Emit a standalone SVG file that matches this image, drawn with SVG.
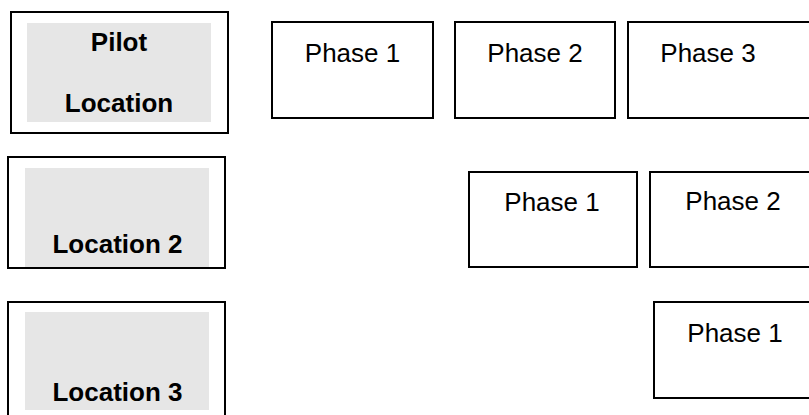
<svg xmlns="http://www.w3.org/2000/svg" width="809" height="415" viewBox="0 0 809 415">
  <style>
    .outer { fill: #ffffff; stroke: #000000; stroke-width: 2; }
    .inner { fill: #e6e6e6; stroke: none; }
    .phase { fill: #ffffff; stroke: #000000; stroke-width: 2; }
    .loc { font-family: "Liberation Sans", Arial, sans-serif; font-weight: bold; font-size: 26px; fill: #000000; text-anchor: middle; }
    .ph { font-family: "Liberation Sans", Arial, sans-serif; font-size: 26px; fill: #000000; text-anchor: middle; }
  </style>
  <rect width="809" height="415" fill="#ffffff"/>
  <g id="location-pilot">
    <rect class="outer" x="11" y="12" width="217" height="121"/>
    <rect class="inner" x="27" y="23" width="184" height="99"/>
    <text class="loc" x="119" y="51">Pilot</text>
    <text class="loc" x="119" y="112">Location</text>
  </g>
  <g id="location-2">
    <rect class="outer" x="8" y="157" width="217" height="111"/>
    <rect class="inner" x="25" y="168" width="184" height="99"/>
    <text class="loc" x="117.5" y="253">Location 2</text>
  </g>
  <g id="location-3">
    <rect class="outer" x="8" y="302" width="217" height="130"/>
    <rect class="inner" x="25" y="312" width="184" height="98"/>
    <text class="loc" x="117.5" y="401">Location 3</text>
  </g>
  <g id="pilot-phase-1">
    <rect class="phase" x="272" y="22" width="161" height="96"/>
    <text class="ph" x="352.5" y="62">Phase 1</text>
  </g>
  <g id="pilot-phase-2">
    <rect class="phase" x="455" y="22" width="160" height="96"/>
    <text class="ph" x="535" y="62">Phase 2</text>
  </g>
  <g id="pilot-phase-3">
    <rect class="phase" x="628" y="22" width="200" height="96"/>
    <text class="ph" x="708" y="62">Phase 3</text>
  </g>
  <g id="loc2-phase-1">
    <rect class="phase" x="469" y="172" width="168" height="95"/>
    <text class="ph" x="552" y="211">Phase 1</text>
  </g>
  <g id="loc2-phase-2">
    <rect class="phase" x="650" y="172" width="180" height="95"/>
    <text class="ph" x="733" y="210">Phase 2</text>
  </g>
  <g id="loc3-phase-1">
    <rect class="phase" x="654" y="302" width="176" height="96"/>
    <text class="ph" x="735" y="342">Phase 1</text>
  </g>
  <g id="connectors"></g>
</svg>
